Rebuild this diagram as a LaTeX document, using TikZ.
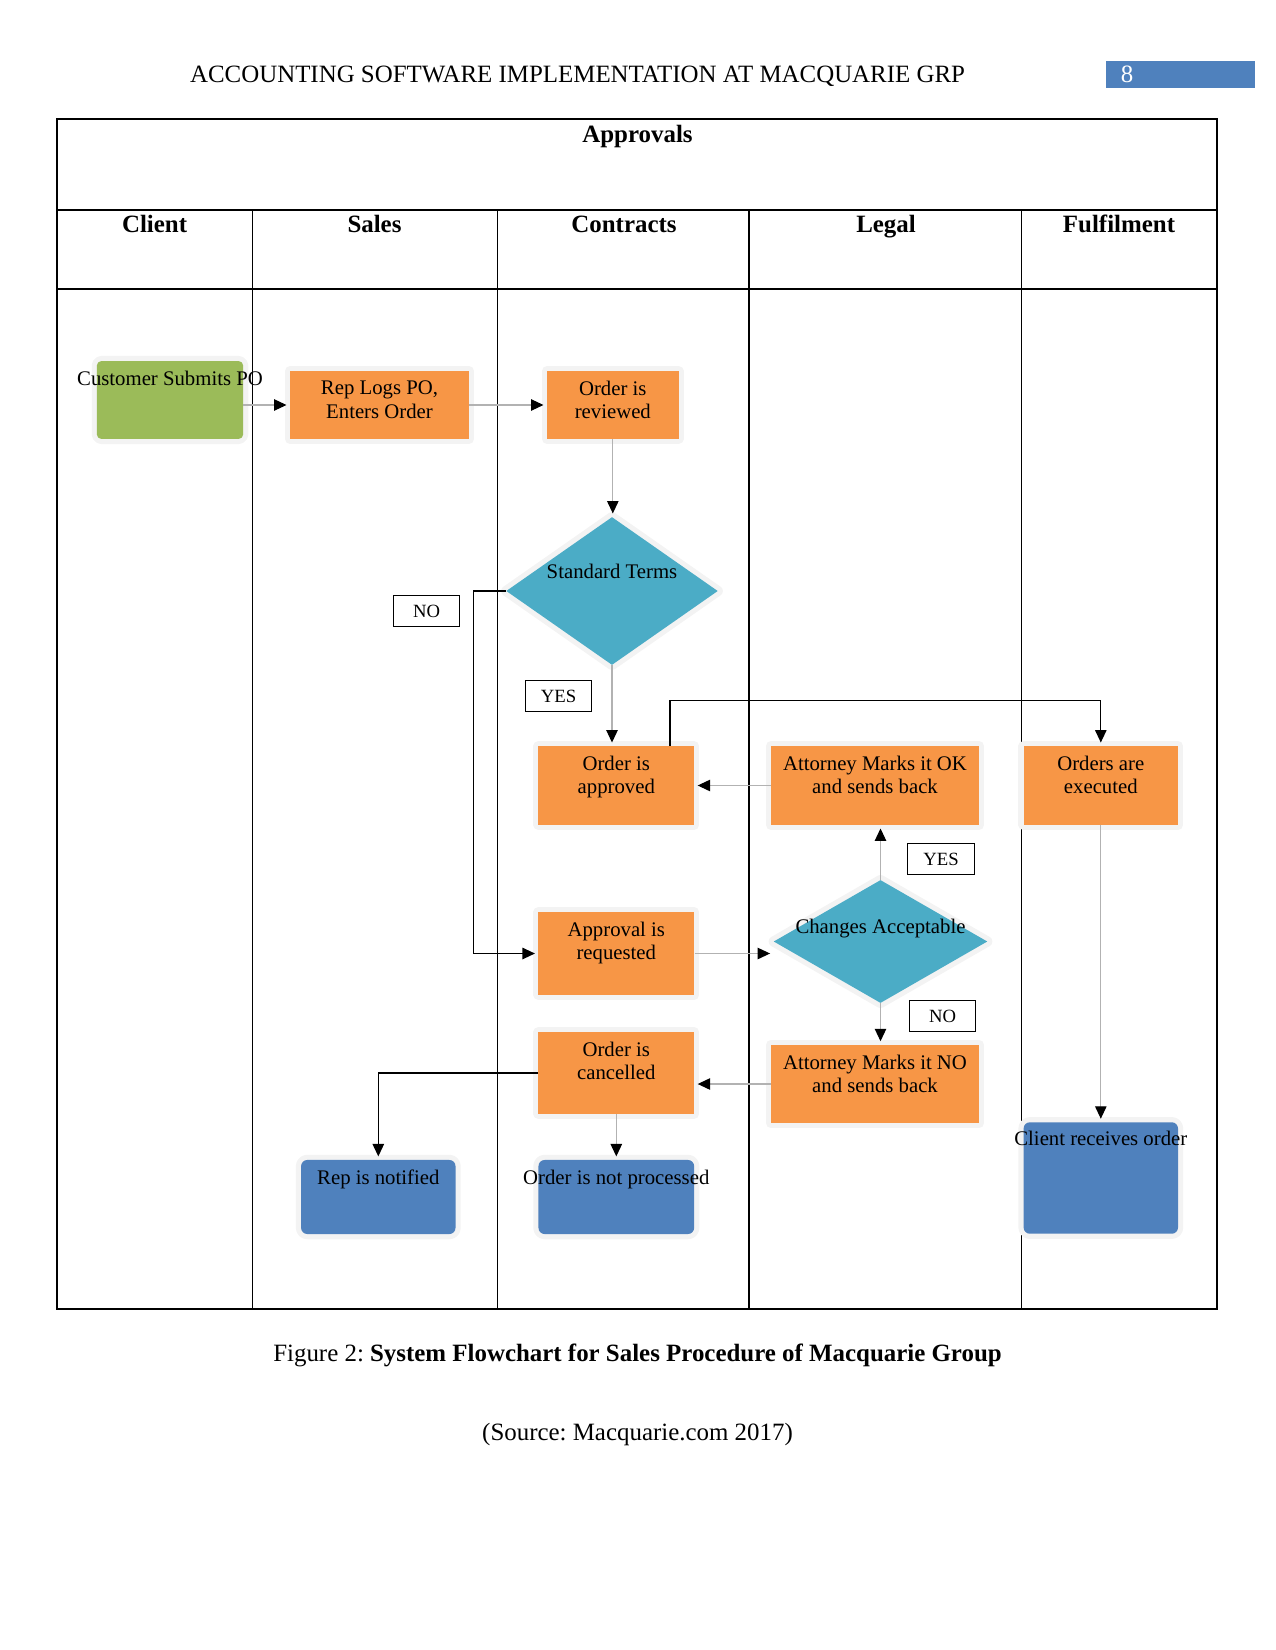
\documentclass[tikz,border=0pt]{standalone}
\usepackage{fontspec}
\setmainfont{Liberation Serif}
\usetikzlibrary{shapes.geometric,arrows.meta}
\frenchspacing

\definecolor{procorange}{HTML}{F79646}
\definecolor{startgreen}{HTML}{9BBB59}
\definecolor{endblue}{HTML}{4F81BD}
\definecolor{decteal}{HTML}{4BACC6}
\definecolor{glowgray}{HTML}{F3F3F3}

\tikzset{
  glow/.style={preaction={draw=glowgray,line width=5pt,line join=round}},
  proc/.style={rectangle,fill=procorange,glow,inner sep=0pt,minimum width=75pt,minimum height=38.5pt},
  startbox/.style={proc,fill=startgreen,rounded corners=2pt},
  endbox/.style={proc,fill=endblue,rounded corners=3pt},
  decision/.style={diamond,fill=decteal,glow,inner sep=0pt},
  intext/.style={anchor=north,align=center,inner sep=0pt,font=\fontsize{10}{11.2}\selectfont,yshift=-4.8pt},
  tag/.style={rectangle,draw,line width=0.5pt,inner sep=0pt,minimum width=32pt,minimum height=15pt,font=\fontsize{9}{10}\selectfont},
  flow/.style={draw=gray!60,line width=0.6pt,shorten >=1.5pt,-{Triangle[length=6pt,width=5.5pt,black]}},
  loopline/.style={draw=black,line width=0.6pt},
  tbl/.style={line width=0.6pt},
  big/.style={anchor=base,font=\fontsize{12}{14}\selectfont},
  colhead/.style={big,font=\fontsize{12}{14}\selectfont\bfseries},
  pagebox/.style={rectangle,fill=endblue,anchor=west,inner sep=0pt,minimum height=13pt,text width=57.8pt,align=left,text=white,font=\fontsize{12}{14}\selectfont,inner xsep=7pt},
}

\begin{document}
\begin{tikzpicture}[x=0.4818pt,y=-0.4818pt]
    \useasboundingbox (0,0) rectangle (1275,1650);

    % page head
    \node[big] (runhead) at (577.6,83) {ACCOUNTING SOFTWARE IMPLEMENTATION AT MACQUARIE GRP};
    \node[pagebox] (pagenum) at (1106,74.5) {8};

    % swimlane table
    \draw[tbl] (57,119) rectangle (1217,1309);
    \draw[tbl] (57,210) -- (1217,210);
    \draw[tbl] (57,289) -- (1217,289);
    \foreach \x in {252.5,497.6,749,1021.5} \draw[tbl] (\x,210) -- (\x,1309);
    \node[colhead] (approvals) at (637.5,143) {Approvals};
    \foreach \x/\t in {154.6/Client,374.5/Sales,624/Contracts,886/Legal,1119/Fulfilment}
        \node[colhead] (h\t) at (\x,233) {\t};

    % boxes
    \node[startbox,minimum width=70.4pt,minimum height=37.4pt,label={[intext]north:Customer Submits PO}] (cust) at (170,400) {};
    \node[proc,minimum width=86.2pt,minimum height=32.6pt,label={[intext]north:{Rep Logs PO,\\Enters Order}}] (replog) at (379.5,405) {};
    \node[proc,minimum width=63.4pt,minimum height=32.6pt,label={[intext]north:Order is\\reviewed}] (reviewed) at (612.8,405) {};
    \node[decision,minimum width=102pt,minimum height=71.3pt,label={[intext,yshift=-17.8pt]north:Standard Terms}] (std) at (612,591) {};
    \node[proc,minimum height=38pt,label={[intext]north:Order is\\approved}] (approved) at (616.3,785.5) {};
    \node[proc,minimum width=100.2pt,minimum height=38pt,label={[intext]north:Attorney Marks it OK\\and sends back}] (attok) at (875,785.5) {};
    \node[proc,minimum width=74.4pt,minimum height=38pt,label={[intext]north:Orders are\\executed}] (executed) at (1100.8,785.5) {};
    \node[proc,minimum height=40pt,label={[intext]north:Approval is\\requested}] (requested) at (616.3,953.5) {};
    \node[decision,minimum width=103pt,minimum height=59.3pt,label={[intext,yshift=-14pt]north:Changes Acceptable}] (changes) at (880.5,941.5) {};
    \node[proc,minimum height=39.5pt,label={[intext]north:Order is\\cancelled}] (cancelled) at (616.3,1073) {};
    \node[proc,minimum width=100.2pt,minimum height=37.8pt,label={[intext]north:Attorney Marks it NO\\and sends back}] (attno) at (875,1084) {};
    \node[endbox,minimum width=74.4pt,minimum height=35.7pt,label={[intext]north:Rep is notified}] (notified) at (378.3,1197) {};
    \node[endbox,minimum height=35.7pt,label={[intext]north:Order is not processed}] (notproc) at (616.3,1197) {};
    \node[endbox,minimum width=74.4pt,minimum height=53.7pt,label={[intext,yshift=0.5pt]north:Client receives order}] (received) at (1100.8,1178) {};

    % yes / no tags
    \node[tag] (no1) at (426.6,611.2) {NO};
    \node[tag] (yes1) at (558.5,696.3) {YES};
    \node[tag] (yes2) at (941,859) {YES};
    \node[tag] (no2) at (942.5,1016) {NO};

    % connectors
    \draw[flow] (cust.east |- replog.west) -- (replog.west);
    \draw[flow] (replog.east) -- (reviewed.west);
    \draw[flow] (reviewed.south) -- (reviewed.south |- std.north);
    \draw[flow] (std.south) -- (std.south |- approved.north);
    \draw[loopline,flow,draw=black] (std.west) -- ++(-32,0) |- (requested.west);
    \draw[loopline,flow,draw=black] ([xshift=25.9pt]approved.north) -- ++(0,-45) -| (executed.north);
    \draw[flow] (attok.west) -- (approved.east);
    \draw[flow] (changes.north) -- (changes.north |- attok.south);
    \draw[flow] (requested.east) -- (requested.east -| changes.west);
    \draw[flow] (changes.south) -- (changes.south |- attno.north);
    \draw[flow] (attno.west) -- (attno.west -| cancelled.east);
    \draw[loopline,flow,draw=black] (cancelled.west) -| (notified.north);
    \draw[flow] (cancelled.south) -- (cancelled.south |- notproc.north);
    \draw[flow] (executed.south) -- (executed.south |- received.north);

    % caption
    \node[big] (caption) at (637.5,1361) {Figure 2: \textbf{System Flowchart for Sales Procedure of Macquarie Group}};
    \node[big] (source) at (637.5,1440) {(Source: Macquarie.com 2017)};
\end{tikzpicture}
\end{document}
